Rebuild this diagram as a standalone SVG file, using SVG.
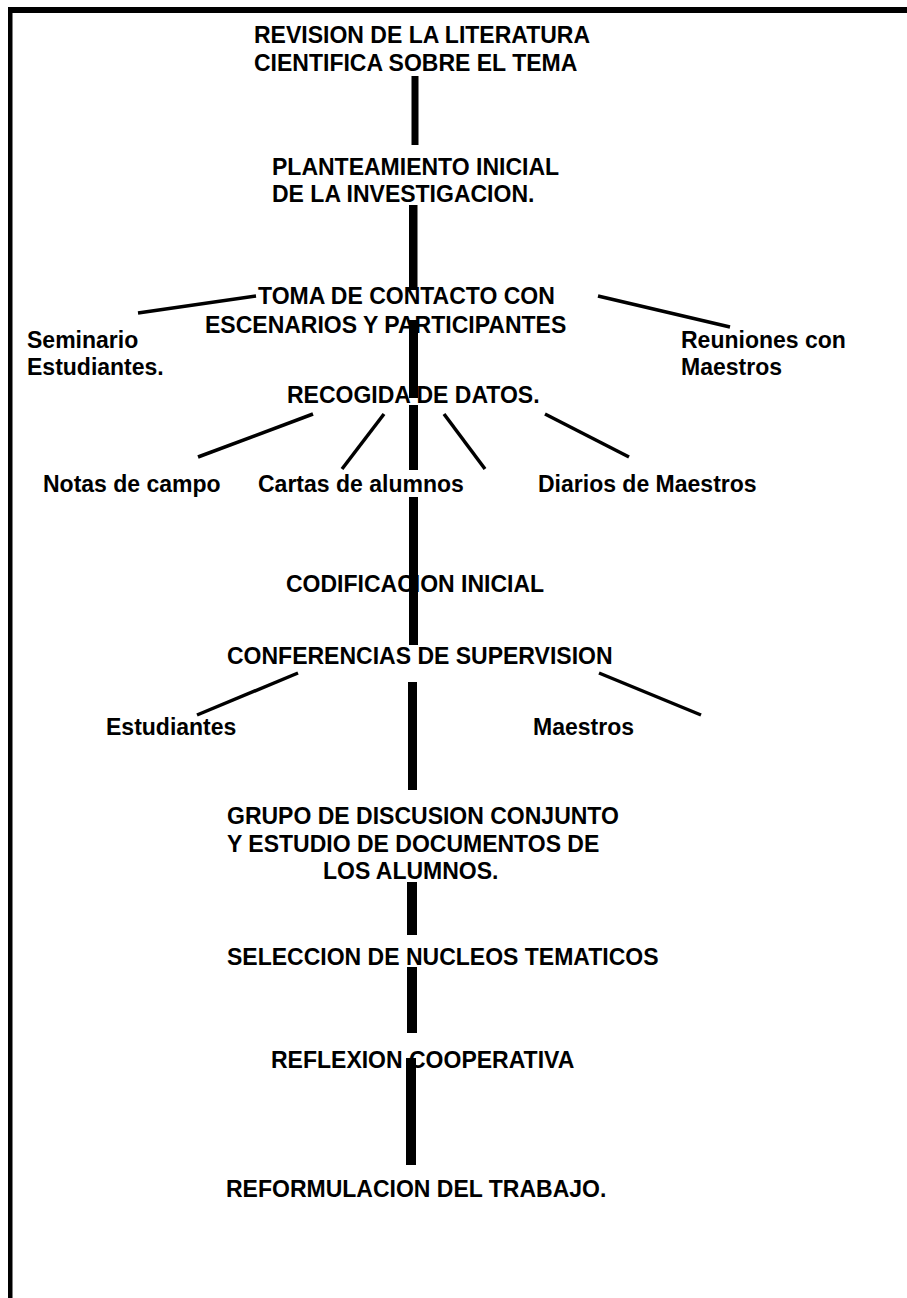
<svg xmlns="http://www.w3.org/2000/svg" width="907" height="1298" viewBox="0 0 907 1298">
  <style>
    .t { font-family: "Liberation Sans", Arial, Helvetica, sans-serif; font-weight: bold; font-size: 23px; fill: #000; }
    .bar { fill: #000; }
    .ln { stroke: #000; stroke-width: 3.5; stroke-linecap: butt; fill: none; }
  </style>
  <rect width="907" height="1298" fill="#fff"/>

  <!-- page frame -->
  <g id="frame">
    <rect x="8" y="7" width="899" height="6" fill="#000"/>
    <rect x="8" y="7" width="4.5" height="1291" fill="#000"/>
  </g>

  <!-- main flow trunk and branch lines -->
  <g id="connectors">
    <rect class="bar" x="411.5" y="76" width="7" height="69"/>
    <rect class="bar" x="409" y="205" width="8.5" height="85"/>
    <rect class="bar" x="409" y="320" width="9" height="78"/>
    <rect class="bar" x="409" y="405" width="9" height="65"/>
    <rect class="bar" x="409" y="497" width="9" height="148"/>
    <rect class="bar" x="408" y="682" width="9" height="108"/>
    <rect class="bar" x="407" y="882" width="10" height="53"/>
    <rect class="bar" x="407" y="967" width="10" height="66"/>
    <rect class="bar" x="406" y="1058" width="10" height="107"/>

    <line class="ln" x1="138" y1="313" x2="256" y2="296"/>
    <line class="ln" x1="598" y1="296" x2="730" y2="327"/>
    <line class="ln" x1="313" y1="414" x2="198" y2="457"/>
    <line class="ln" x1="384" y1="414" x2="342" y2="469"/>
    <line class="ln" x1="444" y1="414" x2="485" y2="469"/>
    <line class="ln" x1="545" y1="414" x2="629" y2="457"/>
    <line class="ln" x1="298" y1="673" x2="197" y2="715"/>
    <line class="ln" x1="599" y1="673" x2="701" y2="715"/>
  </g>

  <g id="revision">
    <text class="t" x="254" y="43">REVISION DE LA LITERATURA</text>
    <text class="t" x="254" y="71">CIENTIFICA SOBRE EL TEMA</text>
  </g>
  <g id="planteamiento">
    <text class="t" x="272" y="175">PLANTEAMIENTO INICIAL</text>
    <text class="t" x="272" y="202">DE LA INVESTIGACION.</text>
  </g>
  <g id="toma-contacto">
    <text class="t" x="258" y="304">TOMA DE CONTACTO CON</text>
    <text class="t" x="205" y="333">ESCENARIOS Y PARTICIPANTES</text>
  </g>
  <g id="seminario">
    <text class="t" x="27" y="348">Seminario</text>
    <text class="t" x="27" y="375">Estudiantes.</text>
  </g>
  <g id="reuniones">
    <text class="t" x="681" y="348">Reuniones con</text>
    <text class="t" x="681" y="375">Maestros</text>
  </g>
  <g id="recogida">
    <text class="t" x="287" y="403">RECOGIDA DE DATOS.</text>
  </g>
  <g id="notas">
    <text class="t" x="43" y="492">Notas de campo</text>
  </g>
  <g id="cartas">
    <text class="t" x="258" y="492">Cartas de alumnos</text>
  </g>
  <g id="diarios">
    <text class="t" x="538" y="492">Diarios de Maestros</text>
  </g>
  <g id="codificacion">
    <text class="t" x="286" y="592">CODIFICACION INICIAL</text>
  </g>
  <g id="conferencias">
    <text class="t" x="227" y="664">CONFERENCIAS DE SUPERVISION</text>
  </g>
  <g id="estudiantes">
    <text class="t" x="106" y="735">Estudiantes</text>
  </g>
  <g id="maestros">
    <text class="t" x="533" y="735">Maestros</text>
  </g>
  <g id="grupo">
    <text class="t" x="227" y="824">GRUPO DE DISCUSION CONJUNTO</text>
    <text class="t" x="227" y="852">Y ESTUDIO DE DOCUMENTOS DE</text>
    <text class="t" x="323" y="879">LOS ALUMNOS.</text>
  </g>
  <g id="seleccion">
    <text class="t" x="227" y="965">SELECCION DE NUCLEOS TEMATICOS</text>
  </g>
  <g id="reflexion">
    <text class="t" x="271" y="1068">REFLEXION COOPERATIVA</text>
  </g>
  <g id="reformulacion">
    <text class="t" x="226" y="1197">REFORMULACION DEL TRABAJO.</text>
  </g>
</svg>
